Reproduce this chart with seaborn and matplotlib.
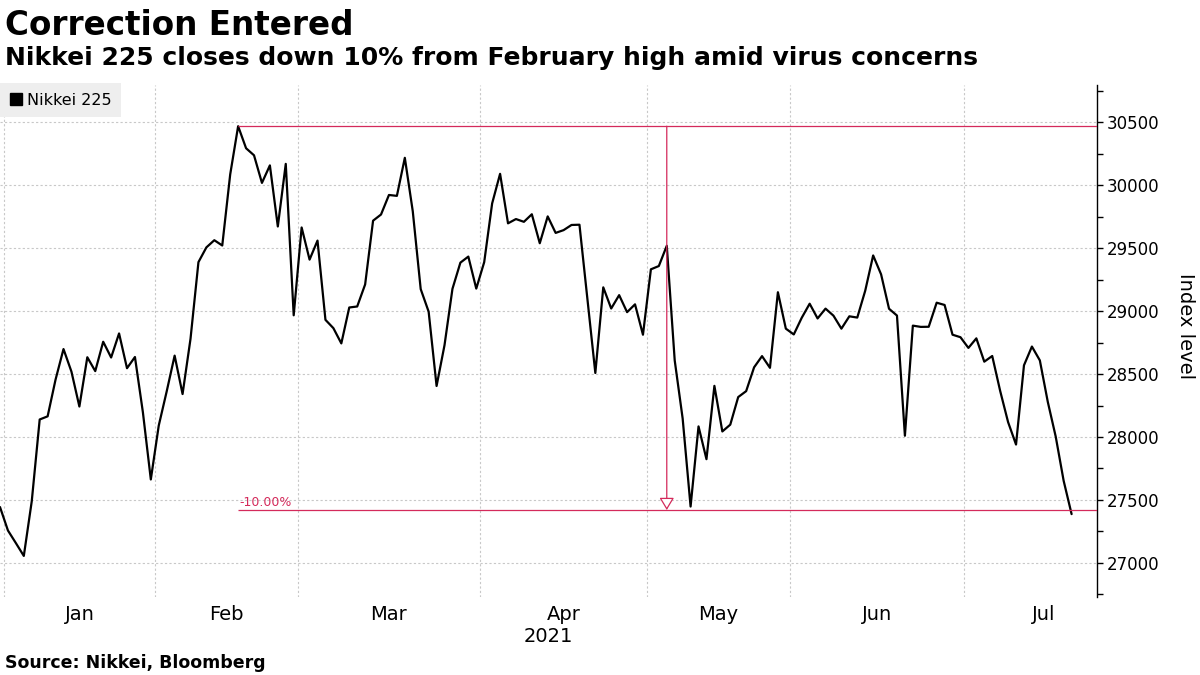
import matplotlib
matplotlib.use("Agg")
import matplotlib.pyplot as plt
from matplotlib.lines import Line2D
from matplotlib.ticker import MultipleLocator
import seaborn as sns
import pandas as pd

# --- data: Nikkei 225 daily closes, trading days only ---
dec_days = [30]
jan_days = [4, 5, 6, 7, 8, 12, 13, 14, 15, 18, 19, 20, 21, 22, 25, 26, 27, 28, 29]
feb_days = [1, 2, 3, 4, 5, 8, 9, 10, 12, 15, 16, 17, 18, 19, 22, 24, 25, 26]
mar_days = [1, 2, 3, 4, 5, 8, 9, 10, 11, 12, 15, 16, 17, 18, 19, 22, 23, 24, 25, 26, 29, 30, 31]
apr_days = [1, 2, 5, 6, 7, 8, 9, 12, 13, 14, 15, 16, 19, 20, 21, 22, 23, 26, 27, 28, 30]
may_days = [6, 7, 10, 11, 12, 13, 14, 17, 18, 19, 20, 21, 24, 25, 26, 27, 28, 31]
jun_days = [1, 2, 3, 4, 7, 8, 9, 10, 11, 14, 15, 16, 17, 18, 21, 22, 23, 24, 25, 28, 29, 30]
jul_days = [1, 2, 5, 6, 7, 8, 9, 12, 13, 14, 15, 16, 19, 20]

dec_close = [27444]
jan_close = [27258, 27158, 27056, 27490, 28139, 28164, 28456, 28698, 28519, 28242,
             28633, 28523, 28756, 28631, 28822, 28546, 28635, 28197, 27663]
feb_close = [28091, 28362, 28646, 28341, 28779, 29388, 29505, 29562, 29520, 30084,
             30467, 30292, 30236, 30017, 30156, 29671, 30168, 28966]
mar_close = [29663, 29408, 29559, 28930, 28864, 28743, 29028, 29036, 29211, 29717,
             29766, 29921, 29914, 30216, 29792, 29174, 28995, 28405, 28729, 29176,
             29384, 29432, 29178]
apr_close = [29388, 29854, 30089, 29696, 29730, 29708, 29768, 29538, 29751, 29620,
             29642, 29683, 29685, 29100, 28508, 29188, 29020, 29126, 28991, 29053, 28812]
may_close = [29331, 29357, 29518, 28608, 28147, 27448, 28084, 27824, 28406, 28044,
             28098, 28317, 28364, 28553, 28642, 28549, 29149, 28860]
jun_close = [28814, 28946, 29058, 28941, 29019, 28963, 28860, 28958, 28948, 29161,
             29441, 29291, 29018, 28964, 28010, 28884, 28874, 28875, 29066, 29048,
             28812, 28792]
jul_close = [28707, 28783, 28598, 28643, 28366, 28118, 27940, 28569, 28718, 28608,
             28279, 28003, 27652, 27388]

month_labels = ["Jan", "Feb", "Mar", "Apr", "May", "Jun", "Jul"]
jul_trading_days = 20  # full July, for centring the last label
marker_date = "2021-05-10"
y_ticks = [27000, 27500, 28000, 28500, 29000, 29500, 30000, 30500]

# build frame
parts = [(2020, 12, dec_days, dec_close), (2021, 1, jan_days, jan_close),
         (2021, 2, feb_days, feb_close), (2021, 3, mar_days, mar_close),
         (2021, 4, apr_days, apr_close), (2021, 5, may_days, may_close),
         (2021, 6, jun_days, jun_close), (2021, 7, jul_days, jul_close)]
rows = []
for yr, mo, days, vals in parts:
    for d, v in zip(days, vals):
        rows.append((pd.Timestamp(yr, mo, d), v))
df = pd.DataFrame(rows, columns=["date", "close"])
df["idx"] = range(len(df))

# month boundaries on the trading-day axis
firsts = df[df["date"] >= "2021-01-01"].groupby(df["date"].dt.month)["idx"].min()
bounds = [i - 0.5 for i in firsts.values]
ends = bounds[1:] + [bounds[-1] + jul_trading_days]
mids = [(a + b) / 2 for a, b in zip(bounds, ends)]

red = "#d42a5b"
narrow = ["Liberation Sans Narrow", "DejaVu Sans"]

sns.set_theme(style="white")
plt.rcParams["font.family"] = ["DejaVu Sans"]
plt.rcParams["text.color"] = "black"
plt.rcParams["xtick.color"] = "black"
plt.rcParams["ytick.color"] = "black"
plt.rcParams["axes.labelcolor"] = "black"

fig = plt.figure(figsize=(12, 6.75), dpi=100)
ax = fig.add_axes([0.0, 1 - 597 / 675, 1097 / 1200, (597 - 85) / 675])

sns.lineplot(data=df, x="idx", y="close", color="black", lw=1.6, ax=ax, legend=False, zorder=3)

ax.set_xlim(0, 138.2)
ax.set_ylim(26730, 30794)

# annotation: peak and 10% correction level
peak_i = int(df["close"].idxmax())
peak = df["close"].max()
level = peak * 0.9
mark_i = int(df.loc[df["date"] == marker_date, "idx"].iloc[0])
xmax = ax.get_xlim()[1]
ax.hlines(peak, peak_i, xmax, color=red, lw=0.9, zorder=4)
ax.hlines(level, peak_i, xmax, color=red, lw=0.9, zorder=4)
ax.annotate("", xy=(mark_i, level), xytext=(mark_i, peak),
            arrowprops=dict(arrowstyle="-|>,head_length=0.5,head_width=0.3",
                            fc="white", ec=red, lw=0.9, shrinkA=0, shrinkB=0,
                            mutation_scale=15), zorder=4)
ax.text(peak_i + 0.2, level + 12, "-10.00%", color=red, fontsize=9,
        family=narrow, ha="left", va="bottom")

# axes styling
for s in ["top", "left", "bottom"]:
    ax.spines[s].set_visible(False)
ax.spines["right"].set_color("black")
ax.spines["right"].set_linewidth(1)

ax.yaxis.tick_right()
ax.set_yticks(y_ticks)
ax.yaxis.set_minor_locator(MultipleLocator(250))
ax.tick_params(axis="y", which="both", direction="out", length=4, width=1,
               color="black", labelsize=12, pad=3, right=True)

ax.set_xticks(bounds)
ax.set_xticklabels([""] * len(bounds))
ax.set_xticks(mids, minor=True)
ax.set_xticklabels(month_labels, minor=True, family=narrow, fontsize=14)
ax.tick_params(axis="x", which="both", length=0, pad=6)

ax.grid(True, axis="x", which="major", color="#c8c8c8", ls=(0, (2, 2)), lw=0.8)
ax.grid(True, axis="y", which="major", color="#c8c8c8", ls=(0, (2, 2)), lw=0.8)
ax.set_xlabel("")
ax.set_ylabel("")
ax.text(0.5, -0.078, "2021", transform=ax.transAxes, ha="center", va="center",
        family=narrow, fontsize=14)

# legend
handle = Line2D([0], [0], marker="s", color="black", ls="none", markersize=8)
ax.legend(handles=[handle], labels=["Nikkei 225"], loc="upper left",
          bbox_to_anchor=(0, 1.004), frameon=True, facecolor="#eeeeee",
          edgecolor="none", fancybox=False, framealpha=1, fontsize=11.5,
          handlelength=0.8, handletextpad=0.3, borderpad=0.6, borderaxespad=0)

# titles and source
fig.text(5 / 1200, 1 - 9 / 675, "Correction Entered", fontsize=23.5, weight="bold",
         ha="left", va="top")
fig.text(5 / 1200, 1 - 46 / 675,
         "Nikkei 225 closes down 10% from February high amid virus concerns",
         fontsize=18, weight="bold", ha="left", va="top")
fig.text(1185 / 1200, 1 - 326 / 675, "Index level", rotation=270, fontsize=14,
         ha="center", va="center")
fig.text(5 / 1200, 1 - 654 / 675, "Source: Nikkei, Bloomberg", fontsize=12.5,
         weight="bold", ha="left", va="top")

fig.savefig("out.png", dpi=100, facecolor="white")
